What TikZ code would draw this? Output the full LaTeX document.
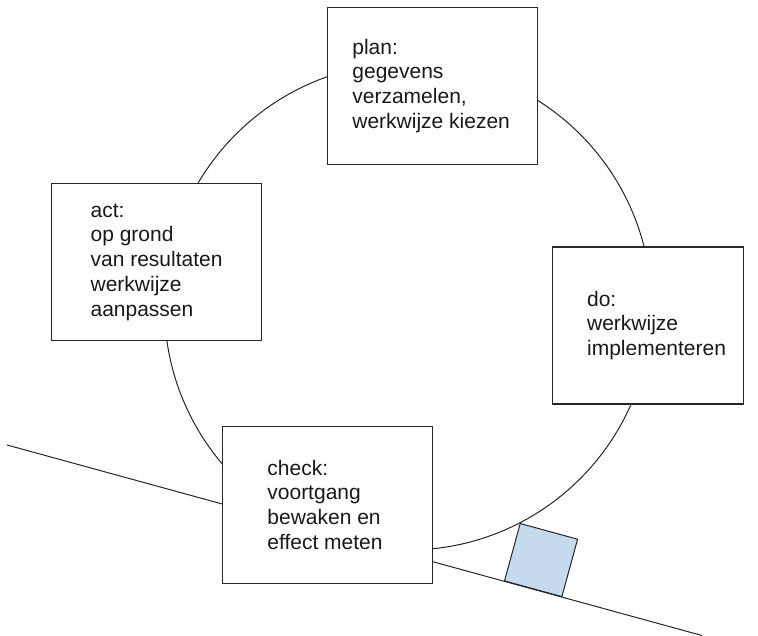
\documentclass[tikz,border=0pt]{standalone}
\usepackage{fontspec}
\setmainfont{Liberation Sans}
\usetikzlibrary{positioning}
\definecolor{blokblauw}{RGB}{197,218,236}

\begin{document}
\begin{tikzpicture}[x=1pt, y=-1pt, line width=1pt,
    fase/.style={draw=black!85, line width=1.2pt, fill=white, minimum height=157pt, inner sep=0pt},
    tekst/.style={anchor=west, align=left, inner sep=0pt, text=black!90, font=\fontsize{21}{24.8}\selectfont}]
  \useasboundingbox (0,0) rectangle (758,636);

  % Cycle
  \draw[black!85] (408,306.5) circle [radius=243.5pt];

  % Slope
  \coordinate (hellingL) at (7,445);
  \coordinate (hellingR) at (702,635.5);
  \draw[black!85] (hellingL) -- (hellingR);

  % Phases
  \node[fase, minimum width=210pt] (plan) at (432.5,85.8) {};
  \node[fase, minimum width=210pt] (act) at (156.7,262) {};
  \node[fase, minimum width=191pt] (do) at (647.7,325.5) {};
  \node[fase, minimum width=210pt] (check) at (327.5,504.7) {};

  \node[tekst] (plantekst) at ([xshift=25pt]plan.west) {plan:\\gegevens\\verzamelen,\\werkwijze kiezen};
  \node[tekst] (acttekst) at ([xshift=39pt]act.west) {act:\\op grond\\van resultaten\\werkwijze\\aanpassen};
  \node[tekst] (dotekst) at ([xshift=35pt]do.west) {do:\\werkwijze\\implementeren};
  \node[tekst] (checktekst) at ([xshift=45pt]check.west) {check:\\voortgang\\bewaken en\\effect meten};

  % Block on the slope
  \draw[black!85, fill=blokblauw] (504.5,580.9) -- ++(15.3:59.5) -- ++(-74.7:59.5) -- ++(195.3:59.5) -- cycle;
\end{tikzpicture}
\end{document}
